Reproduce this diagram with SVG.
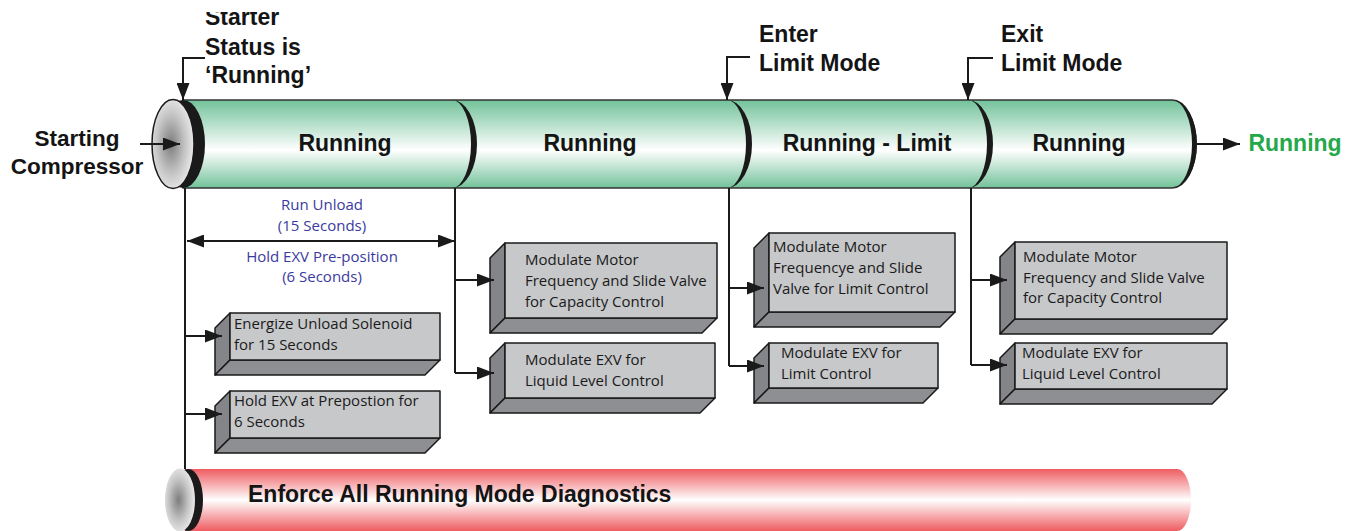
<svg xmlns="http://www.w3.org/2000/svg" width="1357" height="531" viewBox="0 0 1357 531">
<defs>
<linearGradient id="gGreen" x1="0" y1="0" x2="0" y2="1">
<stop offset="0" stop-color="#72c29a"/><stop offset="0.57" stop-color="#ffffff"/><stop offset="1" stop-color="#72c29a"/>
</linearGradient>
<linearGradient id="gRed" x1="0" y1="0" x2="0" y2="1">
<stop offset="0" stop-color="#ee5c61"/><stop offset="0.5" stop-color="#ffffff"/><stop offset="1" stop-color="#ee5c61"/>
</linearGradient>
<radialGradient id="gFace" cx="0.45" cy="0.5" r="0.6">
<stop offset="0" stop-color="#7d7d7d"/><stop offset="0.55" stop-color="#c4c4c4"/><stop offset="1" stop-color="#f2f2f2"/>
</radialGradient>
<marker id="ah" markerUnits="userSpaceOnUse" markerWidth="17" markerHeight="13" refX="17" refY="6.5" orient="auto-start-reverse">
<path d="M0,0 L17,6.5 L0,13 Z" fill="#1a1a1a"/>
</marker>
<clipPath id="clipTop"><rect x="0" y="12" width="1357" height="519"/></clipPath>
</defs>
<style>
.big{font-family:"Liberation Sans",Arial,sans-serif;font-weight:bold;font-size:23px;fill:#141414}
.mid{text-anchor:middle}
.blue{font-family:"Open Sans",sans-serif;font-size:15px;fill:#3a3aa0;text-anchor:middle}
.bt{font-family:"Open Sans",sans-serif;font-size:15px;fill:#1a1a1a}
.front{fill:#c7c8ca;stroke:#1a1a1a;stroke-width:1.5;stroke-linejoin:round}
.side{fill:#848588;stroke:#1a1a1a;stroke-width:1.5;stroke-linejoin:round}
.bot{fill:#8e8f92;stroke:#1a1a1a;stroke-width:1.5;stroke-linejoin:round}
.ln{fill:none;stroke:#1a1a1a;stroke-width:2}
.arr{fill:none;stroke:#1a1a1a;stroke-width:2;marker-end:url(#ah)}
.rim{fill:#1a1a1a}
</style>

<!-- Top cylinder -->
<g id="cylinder-top">
<path d="M183,100 H1172 A24 44 0 0 1 1172 188 H183 Z" fill="url(#gGreen)" stroke="#333" stroke-width="1.5"/>
<ellipse cx="183" cy="144" rx="22" ry="44" class="rim"/>
<ellipse cx="173" cy="144" rx="21" ry="44.5" fill="url(#gFace)" stroke="#1a1a1a" stroke-width="1.5"/>
<path d="M452,100 A25 44 0 0 1 452 188 A19 44 0 0 0 452 100 Z" class="rim"/>
<path d="M727,100 A25 44 0 0 1 727 188 A19 44 0 0 0 727 100 Z" class="rim"/>
<path d="M968,100 A25 44 0 0 1 968 188 A19 44 0 0 0 968 100 Z" class="rim"/>
<path d="M1172,100 A25 44 0 0 1 1172 188 A20 44 0 0 0 1172 100 Z" class="rim"/>
</g>
<g id="seg-running-1"><text x="345" y="151" class="big mid">Running</text></g>
<g id="seg-running-2"><text x="590" y="151" class="big mid">Running</text></g>
<g id="seg-running-limit"><text x="867" y="151" class="big mid">Running - Limit</text></g>
<g id="seg-running-3"><text x="1079" y="151" class="big mid">Running</text></g>
<g id="running-out"><text x="1295" y="151" class="big mid" style="fill:#24a84a">Running</text></g>
<g id="starting-compressor"><text x="77" y="146" class="big mid" style="font-size:22.5px">Starting</text><text x="77" y="174" class="big mid" style="font-size:22.5px">Compressor</text></g>
<g id="starter-status">
<text x="205" y="25" class="big" clip-path="url(#clipTop)">Starter</text>
<text x="205" y="55" class="big">Status is</text>
<text x="205" y="83" class="big">‘Running’</text>
</g>
<g id="enter-limit"><text x="759" y="42" class="big">Enter</text><text x="759" y="71" class="big">Limit Mode</text></g>
<g id="exit-limit"><text x="1001" y="42" class="big">Exit</text><text x="1001" y="71" class="big">Limit Mode</text></g>

<!-- Bottom cylinder -->
<g id="cylinder-diagnostics">
<path d="M185,469 H1177 A14 31 0 0 1 1177 531 H185 Z" fill="url(#gRed)"/>
<ellipse cx="188" cy="500" rx="15" ry="31" class="rim"/>
<ellipse cx="180" cy="500" rx="15" ry="31.5" fill="url(#gFace)"/>
<text x="248" y="502" class="big" style="font-size:23px">Enforce All Running Mode Diagnostics</text>
</g>

<!-- Timing labels -->
<g id="run-unload">
<text x="322" y="210" class="blue">Run Unload</text>
<text x="322" y="231" class="blue">(15 Seconds)</text>
<text x="322" y="262" class="blue">Hold EXV Pre-position</text>
<text x="322" y="282" class="blue">(6 Seconds)</text>
</g>

<!-- Boxes -->
<g id="box-energize">
<polygon class="side" points="230,313 215,328 215,375 230,360"/>
<polygon class="bot" points="230,360 440,360 425,375 215,375"/>
<rect class="front" x="230" y="313" width="210" height="47"/>
<text x="234" y="329" class="bt">Energize Unload Solenoid</text>
<text x="234" y="350" class="bt">for 15 Seconds</text>
</g>
<g id="box-hold-exv">
<polygon class="side" points="230,391 215,406 215,453 230,438"/>
<polygon class="bot" points="230,438 440,438 425,453 215,453"/>
<rect class="front" x="230" y="391" width="210" height="47"/>
<text x="234" y="406" class="bt">Hold EXV at Prepostion for</text>
<text x="234" y="427" class="bt">6 Seconds</text>
</g>
<g id="box-motor-1">
<polygon class="side" points="505,243 490,258 490,333 505,318"/>
<polygon class="bot" points="505,318 717,318 702,333 490,333"/>
<rect class="front" x="505" y="243" width="212" height="75"/>
<text x="525" y="265" class="bt">Modulate Motor</text>
<text x="525" y="286" class="bt">Frequency and Slide Valve</text>
<text x="525" y="307" class="bt">for Capacity Control</text>
</g>
<g id="box-exv-1">
<polygon class="side" points="505,343 490,358 490,413 505,398"/>
<polygon class="bot" points="505,398 715,398 700,413 490,413"/>
<rect class="front" x="505" y="343" width="210" height="55"/>
<text x="525" y="365" class="bt">Modulate EXV for</text>
<text x="525" y="386" class="bt">Liquid Level Control</text>
</g>
<g id="box-motor-limit">
<polygon class="side" points="769,233 754,248 754,327 769,312"/>
<polygon class="bot" points="769,312 955,312 940,327 754,327"/>
<rect class="front" x="769" y="233" width="186" height="79"/>
<text x="773" y="252" class="bt">Modulate Motor</text>
<text x="773" y="273" class="bt">Frequencye and Slide</text>
<text x="773" y="294" class="bt">Valve for Limit Control</text>
</g>
<g id="box-exv-limit">
<polygon class="side" points="769,343 754,358 754,403 769,388"/>
<polygon class="bot" points="769,388 938,388 923,403 754,403"/>
<rect class="front" x="769" y="343" width="169" height="45"/>
<text x="781" y="358" class="bt">Modulate EXV for</text>
<text x="781" y="379" class="bt">Limit Control</text>
</g>
<g id="box-motor-2">
<polygon class="side" points="1015,242 1000,257 1000,334 1015,319"/>
<polygon class="bot" points="1015,319 1227,319 1212,334 1000,334"/>
<rect class="front" x="1015" y="242" width="212" height="77"/>
<text x="1023" y="262" class="bt">Modulate Motor</text>
<text x="1023" y="283" class="bt">Frequency and Slide Valve</text>
<text x="1023" y="303" class="bt">for Capacity Control</text>
</g>
<g id="box-exv-2">
<polygon class="side" points="1015,343 1000,358 1000,404 1015,389"/>
<polygon class="bot" points="1015,389 1227,389 1212,404 1000,404"/>
<rect class="front" x="1015" y="343" width="212" height="46"/>
<text x="1022" y="358" class="bt">Modulate EXV for</text>
<text x="1022" y="379" class="bt">Liquid Level Control</text>
</g>

<!-- Connectors -->
<g id="connectors">
<path class="arr" d="M205,58 H183 V100"/>
<path class="arr" d="M750,57 H727 V100"/>
<path class="arr" d="M993,58 H968 V100"/>
<path class="arr" d="M140,144 H180"/>
<path class="arr" d="M1197,144 H1240"/>
<path class="ln" d="M185,188 V469"/>
<path class="ln" d="M455,188 V373"/>
<path class="ln" d="M729,188 V366"/>
<path class="ln" d="M971,188 V365"/>
<path class="arr" d="M187,241 H455" style="marker-start:url(#ah)"/>
<path class="arr" d="M185,336 H222"/>
<path class="arr" d="M185,414 H222"/>
<path class="arr" d="M455,280 H494"/>
<path class="arr" d="M455,373 H494"/>
<path class="arr" d="M729,288 H764"/>
<path class="arr" d="M729,366 H764"/>
<path class="arr" d="M971,280 H1007"/>
<path class="arr" d="M971,365 H1007"/>
</g>
</svg>
